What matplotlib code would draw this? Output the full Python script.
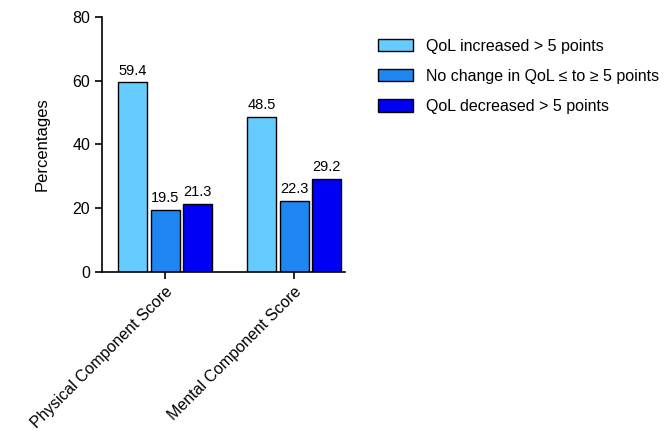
import matplotlib
matplotlib.use("Agg")
import matplotlib.pyplot as plt
import numpy as np

plt.rcParams['font.family'] = ['Liberation Sans', 'DejaVu Sans']

categories = ["Physical Component Score", "Mental Component Score"]
series = ["QoL increased > 5 points", "No change in QoL \u2264 to \u2265 5 points", "QoL decreased > 5 points"]
values = [[59.4, 48.5], [19.5, 22.3], [21.3, 29.2]]
colors = ["#66CCFF", "#1E86F0", "#0000F5"]

fig = plt.figure(figsize=(6.7, 4.42), dpi=100)
ax = fig.add_axes([0.152, 0.385, 0.363, 0.577])
x = np.arange(len(categories))
w = 0.225
step = 0.25
for i, (s, v, c) in enumerate(zip(series, values, colors)):
    pos = x + (i - 1) * step
    ax.bar(pos, v, w, color=c, edgecolor='black', linewidth=1, label=s)
    for p, val in zip(pos, v):
        ax.text(p, val + 1.5, f"{val}", ha='center', va='bottom', fontsize=10.5)
ax.set_xlim(-0.49, 1.395)
ax.set_ylim(0, 80)
ax.set_yticks([0, 20, 40, 60, 80])
ax.set_xticks(x)
ax.set_xticklabels(categories, rotation=45, ha='right', rotation_mode='anchor', fontsize=11.5)
ax.tick_params(axis='y', labelsize=11.5, width=1.2, length=5)
ax.tick_params(axis='x', width=1.2, length=5)
ax.set_ylabel("Percentages", fontsize=12, labelpad=16)
for sp in ['top', 'right']:
    ax.spines[sp].set_visible(False)
for sp in ['left', 'bottom']:
    ax.spines[sp].set_linewidth(1.2)
fig.legend(loc='upper left', bbox_to_anchor=(0.543, 0.945), frameon=False, fontsize=11.5,
           handlelength=2.2, handleheight=0.8, labelspacing=0.95)
fig.savefig("out.png", dpi=100)
